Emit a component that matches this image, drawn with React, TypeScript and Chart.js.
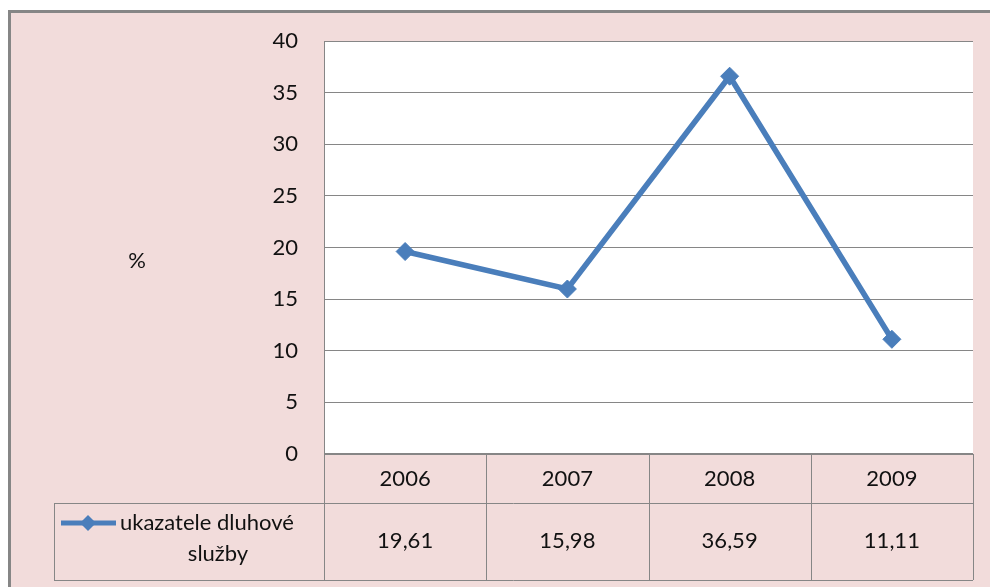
import React, { useEffect, useRef } from 'react';
import { Chart, registerables } from 'chart.js';

Chart.register(...registerables);

// ---- data ----
const categories: string[] = ['2006', '2007', '2008', '2009'];
const seriesValues: number[] = [19.61, 15.98, 36.59, 11.11];
const valueLabels: string[] = ['19,61', '15,98', '36,59', '11,11'];
const seriesNameLines: string[] = ['ukazatele dluhové', 'služby'];
const yAxisTitle = '%';
const yMin = 0;
const yMax = 40;
const yStep = 5;

const FONT = 'Lato, "Open Sans", sans-serif';
const PINK = '#f2dcdb';
const GRID = '#868686';
const BLUE = '#4a7ebb';
const TEXT = '#111111';
const FS = 22;

const framePlugin = {
  id: 'framePlugin',
  beforeDraw(chart: any) {
    const { ctx, width, height, chartArea } = chart;
    ctx.save();
    ctx.fillStyle = '#ffffff';
    ctx.fillRect(0, 0, width, height);
    ctx.fillStyle = PINK;
    ctx.fillRect(8, 10, width, height);
    ctx.strokeStyle = GRID;
    ctx.lineWidth = 3;
    ctx.strokeRect(9.5, 11.5, width + 20, height + 20);
    ctx.fillStyle = '#ffffff';
    ctx.fillRect(chartArea.left, chartArea.top, chartArea.right - chartArea.left, chartArea.bottom - chartArea.top);
    ctx.restore();
  },
  afterDraw(chart: any) {
    const { ctx, chartArea } = chart;
    const xs = chart.scales.x;
    const step = xs.getPixelForValue(1) - xs.getPixelForValue(0);
    const top = chartArea.bottom;
    const row1 = top + 49;
    const row2 = top + 126;
    const legendLeft = 54;
    ctx.save();
    ctx.strokeStyle = GRID;
    ctx.lineWidth = 1;
    ctx.beginPath();
    ctx.moveTo(legendLeft, row1 + 0.5);
    ctx.lineTo(chartArea.right, row1 + 0.5);
    ctx.moveTo(legendLeft, row2 + 0.5);
    ctx.lineTo(chartArea.right, row2 + 0.5);
    ctx.moveTo(legendLeft + 0.5, row1);
    ctx.lineTo(legendLeft + 0.5, row2);
    for (let i = 0; i <= categories.length; i++) {
      const x = Math.round(xs.getPixelForValue(0) - step / 2 + i * step) + 0.5;
      ctx.moveTo(x, top);
      ctx.lineTo(x, row2);
    }
    ctx.stroke();
    ctx.lineWidth = 2;
    ctx.beginPath();
    ctx.moveTo(chartArea.left, top);
    ctx.lineTo(chartArea.right, top);
    ctx.stroke();

    ctx.fillStyle = TEXT;
    ctx.font = `${FS}px ${FONT}`;
    ctx.textAlign = 'center';
    ctx.textBaseline = 'middle';
    categories.forEach((c, i) => {
      const x = xs.getPixelForValue(i);
      ctx.fillText(c, x, top + 25);
      ctx.fillText(valueLabels[i], x, row1 + 38);
    });
    // legend cell
    ctx.strokeStyle = BLUE;
    ctx.lineWidth = 5;
    ctx.beginPath();
    ctx.moveTo(61, row1 + 20);
    ctx.lineTo(116, row1 + 20);
    ctx.stroke();
    ctx.fillStyle = BLUE;
    ctx.beginPath();
    ctx.moveTo(88, row1 + 12);
    ctx.lineTo(96, row1 + 20);
    ctx.lineTo(88, row1 + 28);
    ctx.lineTo(80, row1 + 20);
    ctx.closePath();
    ctx.fill();
    ctx.fillStyle = TEXT;
    ctx.textAlign = 'left';
    ctx.fillText(seriesNameLines[0], 120, row1 + 20);
    ctx.textAlign = 'center';
    ctx.fillText(seriesNameLines[1], 218, row1 + 51);
    ctx.fillText(yAxisTitle, 137, 261);
    ctx.restore();
  },
};

export default function App() {
  const ref = useRef<HTMLCanvasElement | null>(null);
  useEffect(() => {
    document.body.style.margin = '0';
    const canvas = ref.current;
    if (!canvas) return;
    const chart = new Chart(canvas, {
      type: 'line',
      data: {
        labels: categories,
        datasets: [
          {
            label: seriesNameLines.join(' '),
            data: seriesValues,
            borderColor: BLUE,
            backgroundColor: BLUE,
            borderWidth: 5.5,
            tension: 0,
            pointStyle: 'rectRot',
            pointRadius: 9,
            pointBorderWidth: 1,
            pointBackgroundColor: BLUE,
            pointBorderColor: BLUE,
          },
        ],
      },
      options: {
        animation: false,
        responsive: false,
        devicePixelRatio: 1,
        layout: { padding: { left: 0, top: 41, right: 17, bottom: 133 } },
        plugins: {
          legend: { display: false },
          tooltip: { enabled: false },
        },
        scales: {
          x: {
            display: false,
            offset: true,
          },
          y: {
            min: yMin,
            max: yMax,
            ticks: {
              stepSize: yStep,
              padding: 26,
              color: TEXT,
              font: { family: FONT, size: FS },
            },
            grid: { color: GRID, lineWidth: 1, drawTicks: false },
            border: { display: true, color: GRID, width: 1 },
            afterFit: (scale: any) => {
              scale.width = 324;
            },
          },
        },
      },
      plugins: [framePlugin],
    });
    return () => chart.destroy();
  }, []);
  return <canvas ref={ref} width={990} height={587} style={{ display: 'block' }} />;
}
